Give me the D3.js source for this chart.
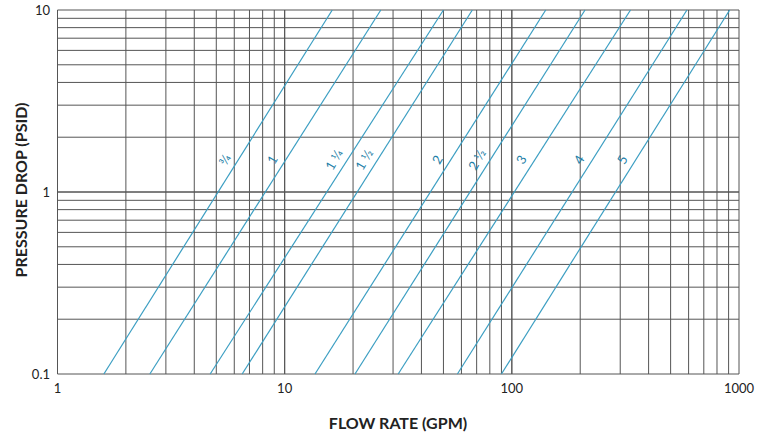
<!DOCTYPE html>
<html><head><meta charset="utf-8">
<script src="https://cdn.jsdelivr.net/npm/d3@7"></script>
<style>body{margin:0;background:#fff}text{font-family:Lato,"Open Sans",sans-serif}</style>
</head><body><svg id="chart" width="768" height="437"></svg>
<script>
// pipe sizes and their flow at 0.1 psid and 10 psid
var sizes = ["3/4", "1", "1 1/4", "1 1/2", "2", "2 1/2", "3", "4", "5"];
var labels = ["3\u20444", "1", "1 1\u20444", "1 1\u20442", "2", "2 1\u20442", "3", "4", "5"];
var flowLow = [1.6, 2.55, 4.7, 6.5, 13.6, 20.4, 31.6, 57.6, 90];
var flowHigh = [16.2, 26.5, 50, 67, 141, 210, 333, 590, 910];
var xTicks = [1, 10, 100, 1000];
var yTicks = [0.1, 1, 10];

var svg = d3.select("#chart");
var pLeft = 57.5, pRight = 739, pTop = 10, pBottom = 374;

var x = d3.scaleLog().domain([1, 1000]).range([pLeft, pRight]);
var y = d3.scaleLog().domain([0.1, 10]).range([pBottom, pTop]);

var gridX = [], gridY = [];
[1, 10, 100].forEach(function(d) { for (var i = 1; i <= 10; i++) gridX.push(d * i); });
[0.1, 1].forEach(function(d) { for (var i = 1; i <= 10; i++) gridY.push(d * i); });

svg.append("g").selectAll("line").data(gridX).enter().append("line")
    .attr("x1", d => x(d)).attr("x2", d => x(d))
    .attr("y1", pTop).attr("y2", pBottom)
    .attr("stroke", "#555").attr("stroke-width", 1);
svg.append("g").selectAll("line").data(gridY).enter().append("line")
    .attr("x1", pLeft).attr("x2", pRight)
    .attr("y1", d => y(d)).attr("y2", d => y(d))
    .attr("stroke", "#555").attr("stroke-width", 1);

svg.append("g").selectAll("line").data(sizes).enter().append("line")
    .attr("x1", (d, i) => x(flowLow[i])).attr("y1", y(0.1))
    .attr("x2", (d, i) => x(flowHigh[i])).attr("y2", y(10))
    .attr("stroke", "#3b9ec2").attr("stroke-width", 1.2);

// labels sit just left of each line at about 1.5 psid
var labY = 162;
svg.append("g").selectAll("text").data(sizes).enter().append("text")
    .attr("transform", function(d, i) {
        var t = (pBottom - labY) / (pBottom - pTop);
        var px = x(flowLow[i]) + t * (x(flowHigh[i]) - x(flowLow[i])) - 8;
        return "translate(" + px + "," + labY + ") rotate(-60)";
    })
    .attr("text-anchor", "middle")
    .attr("font-size", 13).attr("fill", "#1f7fa8")
    .text((d, i) => labels[i]);

svg.append("g").selectAll("text").data(xTicks).enter().append("text")
    .attr("x", d => x(d)).attr("y", 393)
    .attr("text-anchor", "middle").attr("font-size", 13).attr("fill", "#222")
    .text(d => d);
svg.append("g").selectAll("text").data(yTicks).enter().append("text")
    .attr("x", 50).attr("y", d => y(d) + 5)
    .attr("text-anchor", "end").attr("font-size", 13).attr("fill", "#222")
    .text(d => d);

svg.append("text").attr("x", 398).attr("y", 429)
    .attr("text-anchor", "middle").attr("font-size", 16).attr("font-weight", "bold").attr("fill", "#222")
    .text("FLOW RATE (GPM)");
svg.append("text").attr("transform", "translate(27,190) rotate(-90)")
    .attr("text-anchor", "middle").attr("font-size", 16).attr("font-weight", "bold").attr("fill", "#222")
    .text("PRESSURE DROP (PSID)");
</script></body></html>
